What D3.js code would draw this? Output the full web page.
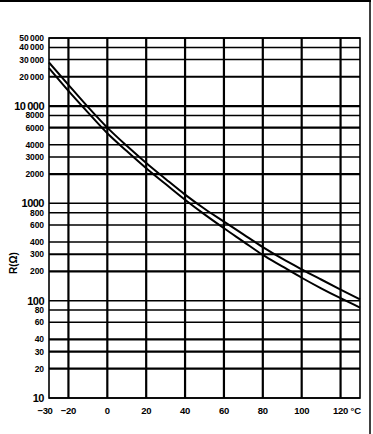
<!DOCTYPE html>
<html>
<head>
<meta charset="utf-8">
<script src="https://cdn.jsdelivr.net/npm/d3@7"></script>
<style>
  html, body { margin: 0; padding: 0; background: #fff; }
</style>
</head>
<body>
<div class="ntcChart"></div>
<script>
// temperature points (°C)
const temps = [-30, -20, -10, 0, 10, 20, 30, 40, 50, 60, 70, 80, 90, 100, 110, 120, 130]
// upper curve R (ohm)
const rUpper = [28000, 16500, 9800, 6000, 3900, 2600, 1780, 1230, 880, 650, 480, 355, 270, 210, 165, 130, 103]
// lower curve R (ohm)
const rLower = [24500, 14300, 8600, 5250, 3450, 2300, 1580, 1090, 770, 555, 405, 295, 225, 172, 134, 106, 85]

const xTicks = [-30, -20, 0, 20, 40, 60, 80, 100, 120]
const xGrid = [-20, 0, 20, 40, 60, 80, 100, 120]
const yTicks = [10, 20, 30, 40, 60, 80, 100, 200, 300, 400, 600, 800, 1000, 2000, 3000, 4000, 6000, 8000, 10000, 20000, 30000, 40000, 50000]
const yBig = [10, 100, 1000, 10000]

const drawChart = () => {
  let width = 373
  let height = 434
  let margin = {top: 38, right: 13, bottom: 36, left: 49}
  let fontFamily = '"Liberation Sans", Arial, sans-serif'

  const svg = d3.select('.ntcChart').append('svg')
    .attr('width', width)
    .attr('height', height)
    .attr('font-family', fontFamily)
    .attr('font-weight', 'bold')

  const x = d3.scaleLinear()
    .domain([-30, 130])
    .range([margin.left, width - margin.right])
  const y = d3.scaleLog()
    .domain([10, 50000])
    .range([height - margin.bottom, margin.top])

  // scan frame (top + right edge)
  svg.append('line')
    .attr('x1', 0).attr('x2', 371).attr('y1', 1).attr('y2', 1)
    .attr('stroke', '#000').attr('stroke-width', 2)
  svg.append('line')
    .attr('x1', 370).attr('x2', 370).attr('y1', 0).attr('y2', height)
    .attr('stroke', '#000').attr('stroke-width', 1.5)

  // horizontal grid
  svg.append('g')
    .selectAll('line')
    .data(yTicks)
    .join('line')
      .attr('x1', x(-30)).attr('x2', x(130))
      .attr('y1', d => y(d)).attr('y2', d => y(d))
      .attr('stroke', '#000')
      .attr('stroke-width', d => [20000, 10000, 6000, 2000, 300, 200, 40, 30, 20].includes(d) ? 2.2 : 1.5)

  // vertical grid
  svg.append('g')
    .selectAll('line')
    .data(xGrid)
    .join('line')
      .attr('x1', d => x(d)).attr('x2', d => x(d))
      .attr('y1', y(50000)).attr('y2', y(10))
      .attr('stroke', '#000')
      .attr('stroke-width', 2.2)

  // plot border
  svg.append('rect')
    .attr('x', x(-30)).attr('y', y(50000))
    .attr('width', x(130) - x(-30)).attr('height', y(10) - y(50000))
    .attr('fill', 'none').attr('stroke', '#000').attr('stroke-width', 1.6)

  // y labels
  const fmt = d => d >= 10000 ? d3.format(',')(d).replace(',', '\u2009') : String(d)
  svg.append('g')
    .selectAll('text')
    .data(yTicks)
    .join('text')
      .attr('x', 44)
      .attr('y', d => y(d))
      .attr('dy', '0.35em')
      .attr('text-anchor', 'end')
      .attr('font-size', d => yBig.includes(d) ? 11 : 8.5)
      .attr('letter-spacing', d => yBig.includes(d) ? -0.5 : -0.1)
      .text(fmt)

  // x labels
  svg.append('g')
    .selectAll('text')
    .data(xTicks)
    .join('text')
      .attr('x', d => d === -30 ? x(d) - 4 : x(d))
      .attr('y', 414)
      .attr('text-anchor', 'middle')
      .attr('font-size', 9.5)
      .attr('letter-spacing', -0.3)
      .text(d => d < 0 ? '\u2212' + Math.abs(d) : d)
  svg.append('text')
    .attr('x', x(120) + 10)
    .attr('y', 414)
    .attr('font-size', 9.5)
    .text('°C')

  // y title
  svg.append('text')
    .attr('transform', `translate(17,${263}) rotate(-90)`)
    .attr('text-anchor', 'middle')
    .attr('font-size', 10)
    .text('R(\u03A9)')

  // curves
  const line = d3.line()
    .x(d => x(d[0]))
    .y(d => y(d[1]))
    .curve(d3.curveMonotoneX)

  const series = [rUpper, rLower]
  svg.append('g')
    .selectAll('path')
    .data(series)
    .join('path')
      .attr('d', s => line(temps.map((t, i) => [t, s[i]])))
      .attr('fill', 'none')
      .attr('stroke', '#000')
      .attr('stroke-width', 2)
}

drawChart()
</script>
</body>
</html>
